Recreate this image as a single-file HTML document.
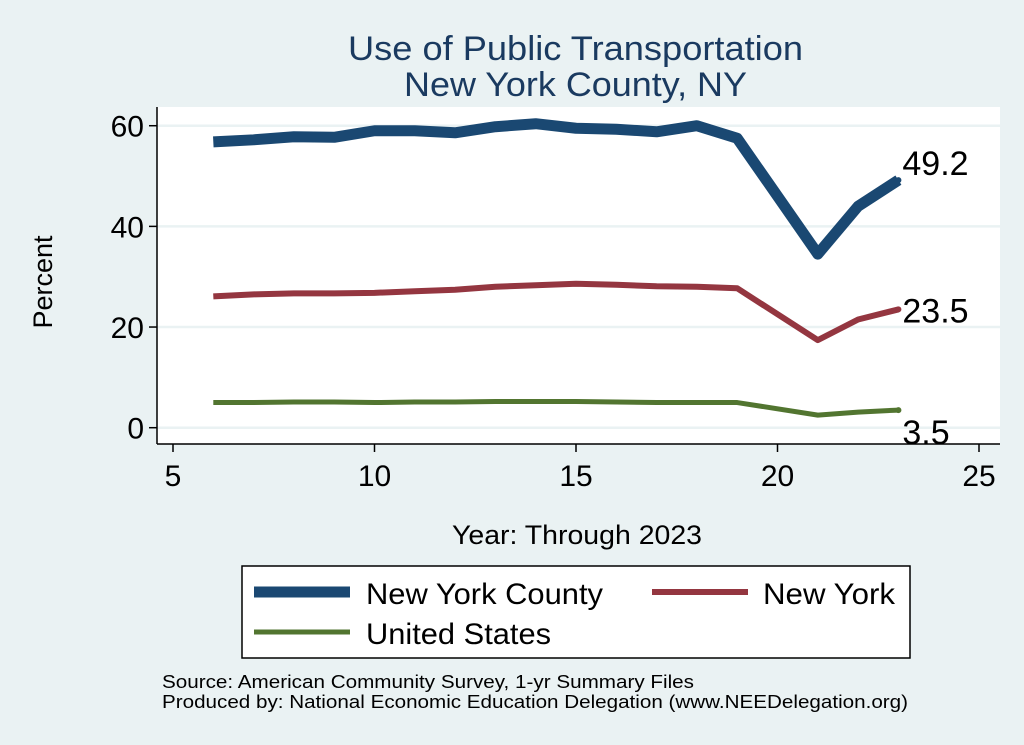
<!DOCTYPE html>
<html><head><meta charset="utf-8"><style>
body{margin:0;background:#eaf2f3;font-family:"Liberation Sans",sans-serif}
svg{display:block}
</style></head><body>
<svg id="c" width="1024" height="745" xmlns="http://www.w3.org/2000/svg">
<rect width="1024" height="745" fill="#eaf2f3"/>
<text x="348" y="60" font-size="34" fill="#1a3a60" textLength="455" lengthAdjust="spacingAndGlyphs">Use of Public Transportation</text>
<text x="404" y="96" font-size="34" fill="#1a3a60" textLength="343" lengthAdjust="spacingAndGlyphs">New York County, NY</text>
<rect x="157" y="107" width="843" height="337" fill="#fff"/>
<g id="grid"></g>
<line x1="157" y1="107" x2="157" y2="444" stroke="#000" stroke-width="1.5"/>
<line x1="157" y1="444" x2="1000" y2="444" stroke="#000" stroke-width="1.5"/>
<g id="ticks"></g>
<g id="series"></g>
<text x="52" y="282" font-size="27" text-anchor="middle" transform="rotate(-90 52 282)">Percent</text>
<text x="452" y="544" font-size="27" textLength="250" lengthAdjust="spacingAndGlyphs">Year: Through 2023</text>
<g>
<rect x="242" y="566" width="668" height="92" fill="#fff" stroke="#000" stroke-width="1.5"/>
<line x1="254" y1="592" x2="350" y2="592" stroke="#1a4872" stroke-width="11"/>
<text x="366" y="604" font-size="30" textLength="237" lengthAdjust="spacingAndGlyphs">New York County</text>
<line x1="652" y1="592" x2="748" y2="592" stroke="#943640" stroke-width="6"/>
<text x="763" y="604" font-size="30" textLength="132" lengthAdjust="spacingAndGlyphs">New York</text>
<line x1="254" y1="632" x2="350" y2="632" stroke="#527530" stroke-width="5"/>
<text x="366" y="644" font-size="30" textLength="185" lengthAdjust="spacingAndGlyphs">United States</text>
</g>
<text x="162" y="688" font-size="18" textLength="532" lengthAdjust="spacingAndGlyphs">Source: American Community Survey, 1-yr Summary Files</text>
<text x="162" y="708" font-size="18" textLength="746" lengthAdjust="spacingAndGlyphs">Produced by: National Economic Education Delegation (www.NEEDelegation.org)</text>
</svg>
<script>
const years=[6,7,8,9,10,11,12,13,14,15,16,17,18,19,21,22,23];
const nyc=[56.8,57.2,57.8,57.7,59.0,59.0,58.6,59.8,60.4,59.5,59.3,58.8,60.0,57.5,34.5,44.0,49.2];
const ny=[26.1,26.5,26.7,26.7,26.8,27.1,27.4,28.0,28.3,28.6,28.4,28.1,28.0,27.7,17.4,21.5,23.5];
const us=[5.0,5.0,5.1,5.1,5.0,5.1,5.1,5.2,5.2,5.2,5.1,5.0,5.0,5.0,2.5,3.1,3.5];
const xTicks=[5,10,15,20,25];
const yTicks=[0,20,40,60];
const NS="http://www.w3.org/2000/svg";
const X=v=>173+(v-5)*40.3;
const Y=v=>427.7-v*5.033;
function mk(t,a,p){const e=document.createElementNS(NS,t);for(const k in a)e.setAttribute(k,a[k]);p.appendChild(e);return e;}
const grid=document.getElementById('grid'),ticks=document.getElementById('ticks'),ser=document.getElementById('series');
yTicks.forEach(v=>{
 const g=mk('line',{x1:157,x2:1000,y1:Y(v),y2:Y(v),stroke:'#eaf2f3','stroke-width':2.5},grid);
 
 
 mk('line',{x1:149,x2:157,y1:Y(v),y2:Y(v),stroke:'#000','stroke-width':1.5},ticks);
 const t=mk('text',{x:144,y:Y(v)+11,'font-size':30,'text-anchor':'end'},ticks);t.textContent=v;
 
 
});
xTicks.forEach(v=>{
 mk('line',{x1:X(v),x2:X(v),y1:444,y2:452,stroke:'#000','stroke-width':1.5},ticks);
 const t=mk('text',{x:X(v),y:486,'font-size':30,'text-anchor':'middle'},ticks);t.textContent=v;
 
 
});
function line(vals,color,w,name,ly){
 const p=mk('polyline',{points:years.map((y,i)=>X(y)+','+Y(vals[i])).join(' '),fill:'none',stroke:color,'stroke-width':w,'stroke-linejoin':'round'},ser);
 
 
 const last=vals[vals.length-1];
 const c=mk('circle',{cx:X(years[years.length-1]),cy:Y(last),r:3,fill:color},ser);
 
 
 const t=mk('text',{x:X(years[years.length-1])+4,y:Y(last)+ly,'font-size':34},ser);t.textContent=last;
 
 
}
line(nyc,'#1a4872',11,'line-new-york-county',-5);
line(ny,'#943640',6,'line-new-york',13);
line(us,'#527530',5,'line-united-states',34);
</script>
</body></html>
